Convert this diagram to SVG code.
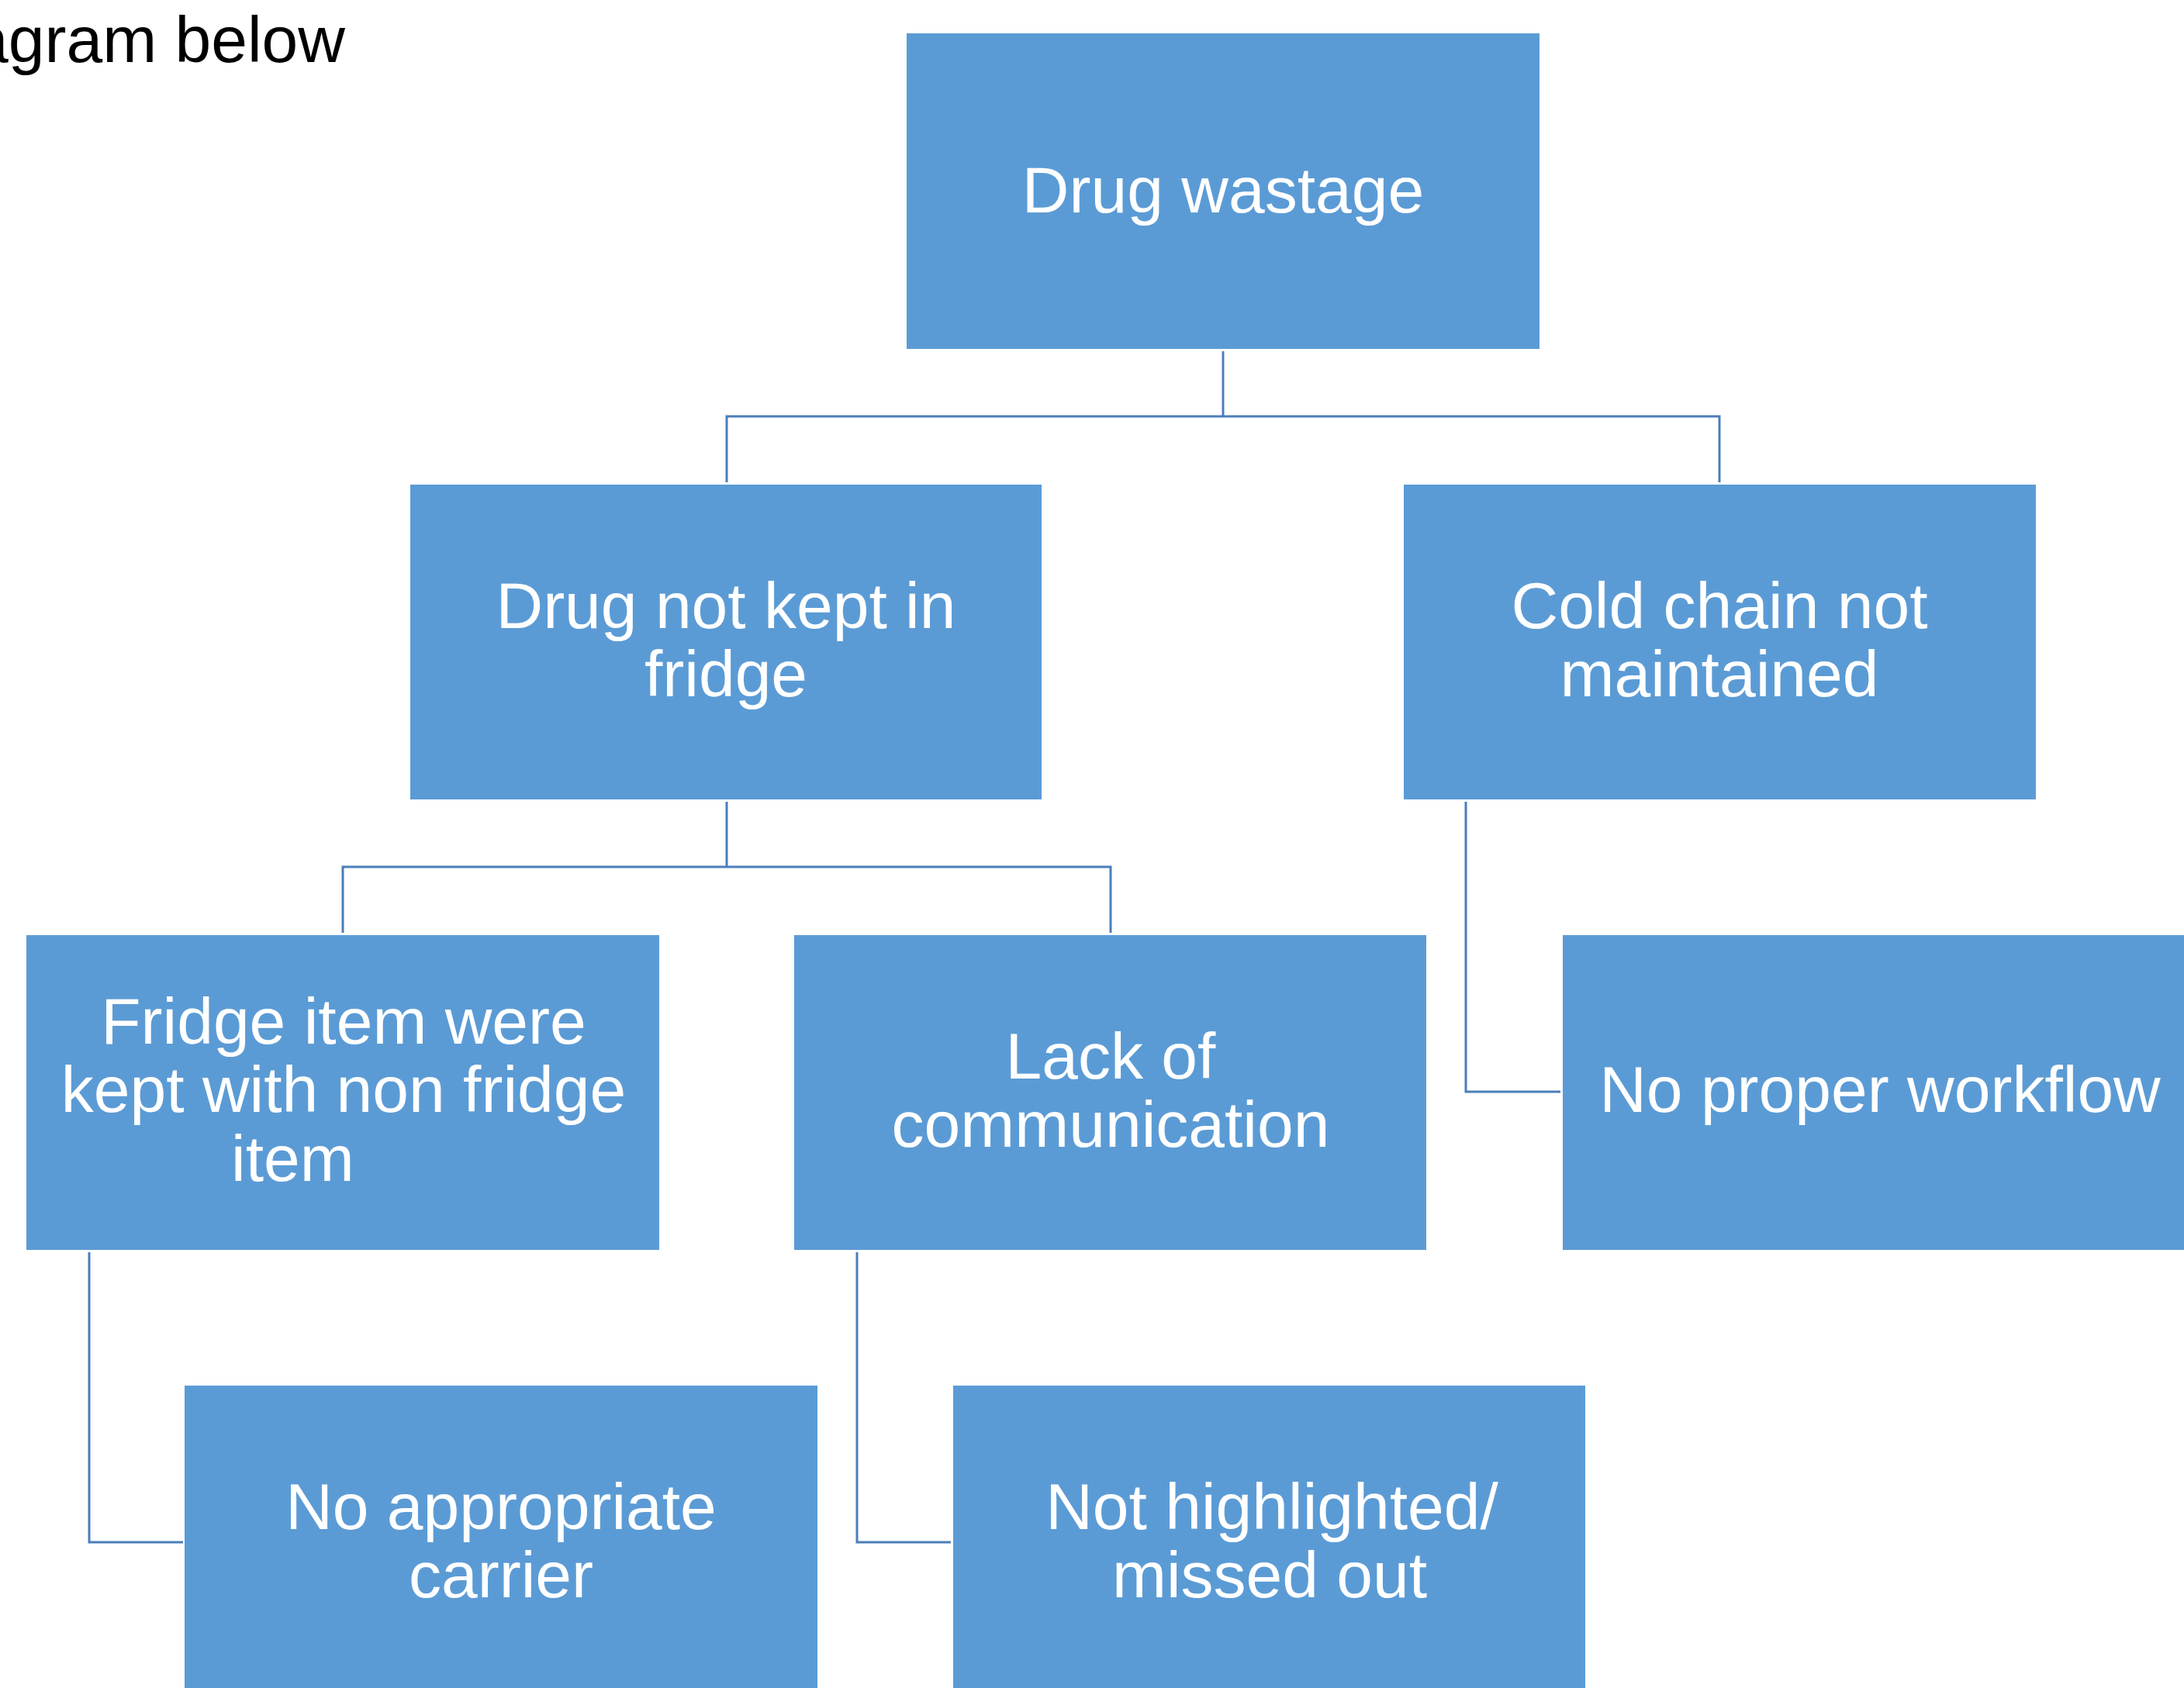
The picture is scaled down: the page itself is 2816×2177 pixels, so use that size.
<svg xmlns="http://www.w3.org/2000/svg" width="2816" height="2177" viewBox="0 0 2816 2177">
<style>
.box{fill:#5B9BD5;}
.lbl{fill:#FFFFFF;font-family:"Liberation Sans",Arial,sans-serif;font-size:84px;text-anchor:middle;}
.con{fill:none;stroke:#4A7EBB;stroke-width:3;}
</style>
<rect width="2816" height="2177" fill="#FFFFFF"/>
<text x="445" y="80" font-family="Liberation Sans, Arial, sans-serif" font-size="84" text-anchor="end" fill="#000000">agram below</text>
<g id="connectors">
<path class="con" d="M1577,453 V537"/>
<path class="con" d="M937,622 V537 H2217 V622"/>
<path class="con" d="M937,1034 V1118"/>
<path class="con" d="M442,1203 V1118 H1432 V1203"/>
<path class="con" d="M1890,1034 V1408 H2012"/>
<path class="con" d="M115,1615 V1989 H236"/>
<path class="con" d="M1105,1615 V1989 H1226"/>
</g>
<g id="n-drug-wastage">
<rect class="box" x="1169" y="43" width="816" height="407"/>
<text class="lbl" x="1577" y="274">Drug wastage</text>
</g>
<g id="n-not-kept-fridge">
<rect class="box" x="529" y="625" width="814" height="406"/>
<text class="lbl" x="936" y="810">Drug not kept in</text>
<text class="lbl" x="936" y="898">fridge</text>
</g>
<g id="n-cold-chain">
<rect class="box" x="1810" y="625" width="815" height="406"/>
<text class="lbl" x="2217" y="810">Cold chain not</text>
<text class="lbl" x="2217" y="898">maintained</text>
</g>
<g id="n-fridge-item">
<rect class="box" x="34" y="1206" width="816" height="406"/>
<text class="lbl" x="443" y="1346">Fridge item were</text>
<text class="lbl" x="443" y="1434">kept with non fridge</text>
<text class="lbl" x="298" y="1523" style="text-anchor:start">item</text>
</g>
<g id="n-lack-communication">
<rect class="box" x="1024" y="1206" width="815" height="406"/>
<text class="lbl" x="1432" y="1391">Lack of</text>
<text class="lbl" x="1432" y="1479">communication</text>
</g>
<g id="n-no-workflow">
<rect class="box" x="2015" y="1206" width="816" height="406"/>
<text class="lbl" x="2424" y="1434">No proper workflow</text>
</g>
<g id="n-no-carrier">
<rect class="box" x="238" y="1787" width="816" height="406"/>
<text class="lbl" x="646" y="1972">No appropriate</text>
<text class="lbl" x="646" y="2060">carrier</text>
</g>
<g id="n-not-highlighted">
<rect class="box" x="1229" y="1787" width="815" height="406"/>
<text class="lbl" x="1640" y="1972">Not highlighted/</text>
<text class="lbl" x="1637" y="2060">missed out</text>
</g>
</svg>
